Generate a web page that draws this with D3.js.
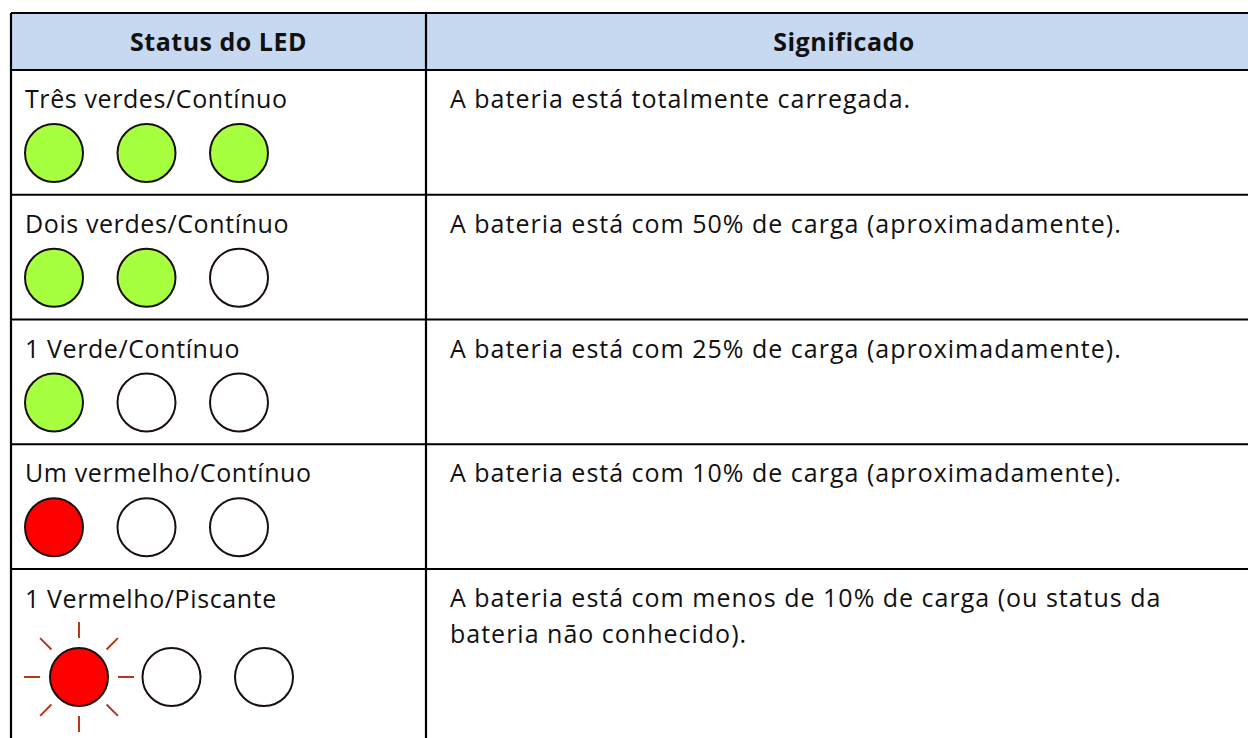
<!DOCTYPE html>
<html><head><meta charset="utf-8">
<script src="https://cdn.jsdelivr.net/npm/d3@7"></script>
<style>html,body{margin:0;padding:0;background:#fff;overflow:hidden}</style>
</head><body>
<svg id="chart" width="1248" height="738"></svg>
<script>
const headers = ["Status do LED", "Significado"];
const statusLabels = ["Três verdes/Contínuo", "Dois verdes/Contínuo", "1 Verde/Contínuo", "Um vermelho/Contínuo", "1 Vermelho/Piscante"];
const meanings = [
  ["A bateria está totalmente carregada."],
  ["A bateria está com 50% de carga (aproximadamente)."],
  ["A bateria está com 25% de carga (aproximadamente)."],
  ["A bateria está com 10% de carga (aproximadamente)."],
  ["A bateria está com menos de 10% de carga (ou status da", "bateria não conhecido)."]
];
const ledStates = [
  ["green", "green", "green"],
  ["green", "green", "off"],
  ["green", "off", "off"],
  ["red", "off", "off"],
  ["red", "off", "off"]
];
const blinking = [false, false, false, false, true];

const fills = {green: "#a6ff3f", red: "#ff0000", off: "#ffffff"};
const font = "'Open Sans', sans-serif";

const svg = d3.select("#chart");
const tLeft = 11, tMid = 426, tRight = 1262, tTop = 13, headerBottom = 70, rowH = 124.75;
const y = d3.scaleLinear().domain([0, 1]).range([headerBottom, headerBottom + rowH]);

// header
svg.append("rect").attr("x", tLeft).attr("y", tTop).attr("width", tRight - tLeft).attr("height", headerBottom - tTop).attr("fill", "#c6d9f1");
svg.selectAll("text.hdr").data(headers).join("text").attr("class", "hdr")
  .attr("x", (d, i) => i === 0 ? (tLeft + tMid) / 2 : (tMid + tRight) / 2)
  .attr("y", 51).attr("text-anchor", "middle")
  .attr("font-family", font).attr("font-weight", 700).attr("font-size", 25)
  .attr("letter-spacing", 0.5).attr("fill", "#111")
  .text(d => d);

const rows = svg.selectAll("g.row").data(statusLabels).join("g").attr("class", "row")
  .attr("transform", (d, i) => `translate(0,${y(i)})`);

rows.append("text").attr("x", 25).attr("y", (d, i) => blinking[i] ? 39 : 38)
  .attr("font-family", font).attr("font-size", 25).attr("letter-spacing", 0.6)
  .attr("fill", "#111").text(d => d);

rows.each(function(d, i) {
  const g = d3.select(this);
  g.selectAll("text.m").data(meanings[i]).join("text").attr("class", "m")
    .attr("x", 450).attr("y", (t, j) => 38 + j * 36)
    .attr("font-family", font).attr("font-size", 25).attr("letter-spacing", 1.0)
    .attr("fill", "#111").text(t => t);

  const x0 = blinking[i] ? 79 : 54;
  const xl = d3.scaleLinear().domain([0, 1]).range([x0, x0 + 92.5]);
  const cy = blinking[i] ? 108 : 83;
  if (blinking[i]) {
    const angles = d3.range(8).map(k => k * Math.PI / 4);
    g.selectAll("line.ray").data(angles).join("line").attr("class", "ray")
      .attr("x1", a => xl(0) + 39 * Math.cos(a)).attr("y1", a => cy + 39 * Math.sin(a))
      .attr("x2", a => xl(0) + 55 * Math.cos(a)).attr("y2", a => cy + 55 * Math.sin(a))
      .attr("stroke", "#b3381c").attr("stroke-width", 2);
  }
  g.selectAll("circle").data(ledStates[i]).join("circle")
    .attr("cx", (s, k) => xl(k)).attr("cy", cy).attr("r", 29)
    .attr("fill", s => fills[s]).attr("stroke", "#1a0f0f").attr("stroke-width", 2);
});

// grid lines
const hLines = [tTop, headerBottom].concat(statusLabels.slice(0, -1).map((d, i) => y(i + 1)));
svg.selectAll("line.h").data(hLines).join("line").attr("class", "h")
  .attr("x1", tLeft).attr("x2", tRight).attr("y1", d => d).attr("y2", d => d)
  .attr("stroke", "#000").attr("stroke-width", 2.2);
svg.selectAll("line.v").data([tLeft, tMid, tRight]).join("line").attr("class", "v")
  .attr("x1", d => d).attr("x2", d => d).attr("y1", tTop).attr("y2", 780)
  .attr("stroke", "#000").attr("stroke-width", 2.2);
</script>
</body></html>
